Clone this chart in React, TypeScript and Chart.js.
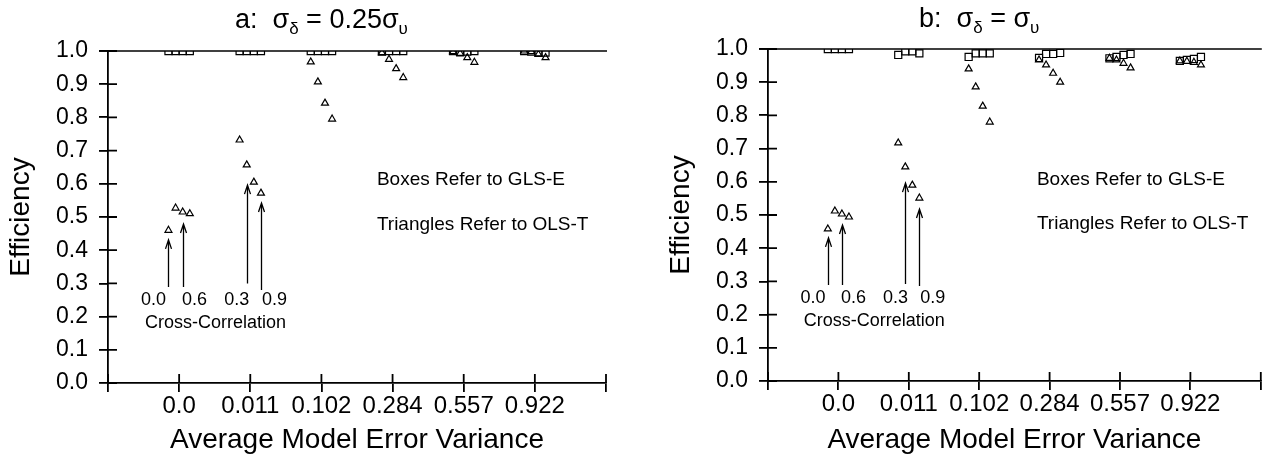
import React, { useEffect, useRef } from 'react';
import { Chart, registerables } from 'chart.js';

Chart.register(...registerables);

const FONT = "'Liberation Sans', Arial, Helvetica, sans-serif";

// ---------- data ----------
const categories = ['0.0', '0.011', '0.102', '0.284', '0.557', '0.922'];
const crossCorrelations = ['0.0', '0.3', '0.6', '0.9'];
const corrOffsets = [-0.15, -0.05, 0.05, 0.15];

// Panel a: sigma_delta = 0.25 sigma_upsilon
const glsA = [
  [1.0, 1.0, 1.0, 1.0],
  [1.0, 1.0, 1.0, 1.0],
  [1.0, 1.0, 1.0, 1.0],
  [0.998, 1.0, 1.0, 1.0],
  [1.0, 0.996, 0.998, 1.0],
  [1.0, 0.998, 0.996, 0.995],
];
const olsA = [
  [0.46, 0.527, 0.515, 0.51],
  [0.732, 0.657, 0.605, 0.572],
  [0.967, 0.907, 0.843, 0.795],
  [0.995, 0.975, 0.947, 0.92],
  [0.998, 0.993, 0.98, 0.966],
  [1.0, 0.998, 0.99, 0.98],
];

// Panel b: sigma_delta = sigma_upsilon
const glsB = [
  [1.0, 1.0, 1.0, 1.0],
  [0.982, 0.993, 0.993, 0.987],
  [0.976, 0.987, 0.987, 0.987],
  [0.973, 0.985, 0.985, 0.988],
  [0.972, 0.976, 0.982, 0.985],
  [0.964, 0.967, 0.97, 0.976],
];
const olsB = [
  [0.458, 0.512, 0.503, 0.494],
  [0.717, 0.645, 0.59, 0.551],
  [0.94, 0.886, 0.828, 0.78],
  [0.967, 0.952, 0.927, 0.9],
  [0.972, 0.967, 0.957, 0.943],
  [0.964, 0.963, 0.96, 0.952],
];

// arrows: category index, cross-correlation index, from value, to value (tip)
const arrowsA = [
  { cat: 0, corr: 0, from: 0.289, to: 0.431 },
  { cat: 0, corr: 2, from: 0.289, to: 0.479 },
  { cat: 1, corr: 1, from: 0.3, to: 0.596 },
  { cat: 1, corr: 3, from: 0.28, to: 0.542 },
];
const arrowsB = [
  { cat: 0, corr: 0, from: 0.289, to: 0.431 },
  { cat: 0, corr: 2, from: 0.289, to: 0.47 },
  { cat: 1, corr: 1, from: 0.292, to: 0.596 },
  { cat: 1, corr: 3, from: 0.286, to: 0.518 },
];
const arrowLabelTexts = ['0.0', '0.6', '0.3', '0.9'];
const arrowLabelX = [0.64, 1.215, 1.81, 2.34];
const arrowLabelY = 0.25;
const crossCorrTitle = 'Cross-Correlation';
const crossCorrX = 1.51;
const crossCorrY = 0.18;

const noteTexts = ['Boxes Refer to GLS-E', 'Triangles Refer to OLS-T'];
const noteXA = 3.78;
const noteYA = [0.613, 0.476];
const noteXB = 3.82;
const noteYB = [0.605, 0.473];

const titleA = [
  { t: 'a:  ', sub: false },
  { t: 'σ', sub: false },
  { t: 'δ', sub: true },
  { t: ' = 0.25', sub: false },
  { t: 'σ', sub: false },
  { t: 'υ', sub: true },
];
const titleB = [
  { t: 'b:  ', sub: false },
  { t: 'σ', sub: false },
  { t: 'δ', sub: true },
  { t: ' = ', sub: false },
  { t: 'σ', sub: false },
  { t: 'υ', sub: true },
];

const yAxisTitle = 'Efficiency';
const xAxisTitle = 'Average Model Error Variance';

const TICK = 9;
const AXIS_W = 1.8;

function pointsFrom(values: number[][]) {
  const pts: { x: number; y: number }[] = [];
  values.forEach((row, c) => {
    row.forEach((v, i) => {
      pts.push({ x: c + 1 + corrOffsets[i], y: v });
    });
  });
  return pts;
}

function makeOverlay(panel: any) {
  return {
    id: 'overlay',
    beforeDatasetsDraw(chart: any) {
      const { ctx, chartArea } = chart;
      const x = chart.scales.x;
      const y = chart.scales.y;
      ctx.save();
      ctx.strokeStyle = '#000';
      ctx.lineWidth = AXIS_W;
      ctx.beginPath();
      y.ticks.forEach((t: any) => {
        const py = y.getPixelForValue(t.value);
        ctx.moveTo(chartArea.left, py);
        ctx.lineTo(chartArea.left + TICK, py);
      });
      x.ticks.forEach((t: any) => {
        const px = x.getPixelForValue(t.value);
        ctx.moveTo(px, chartArea.bottom);
        ctx.lineTo(px, chartArea.bottom - TICK);
      });
      ctx.stroke();
      // reference line at efficiency 1.0
      const p1 = y.getPixelForValue(1.0);
      ctx.beginPath();
      ctx.lineWidth = 1.5;
      ctx.moveTo(chartArea.left - TICK, p1);
      ctx.lineTo(chartArea.right + 1, p1);
      ctx.stroke();
      ctx.restore();
    },
    afterDraw(chart: any) {
      const { ctx } = chart;
      const x = chart.scales.x;
      const y = chart.scales.y;
      ctx.save();
      ctx.strokeStyle = '#000';
      ctx.fillStyle = '#000';
      // arrows
      ctx.lineWidth = 1.3;
      panel.arrows.forEach((a: any) => {
        const px = Math.round(x.getPixelForValue(a.cat + 1 + corrOffsets[a.corr])) + 0.5;
        const pFrom = y.getPixelForValue(a.from);
        const pTo = y.getPixelForValue(a.to);
        ctx.beginPath();
        ctx.moveTo(px, pFrom);
        ctx.lineTo(px, pTo);
        ctx.moveTo(px - 3, pTo + 9);
        ctx.lineTo(px, pTo);
        ctx.lineTo(px + 3, pTo + 9);
        ctx.stroke();
      });
      // arrow labels
      ctx.font = `18px ${FONT}`;
      ctx.textAlign = 'center';
      ctx.textBaseline = 'middle';
      arrowLabelTexts.forEach((t, i) => {
        ctx.fillText(t, x.getPixelForValue(arrowLabelX[i]), y.getPixelForValue(arrowLabelY));
      });
      ctx.fillText(crossCorrTitle, x.getPixelForValue(crossCorrX), y.getPixelForValue(crossCorrY));
      // notes
      ctx.textAlign = 'left';
      ctx.font = `19px ${FONT}`;
      noteTexts.forEach((t, i) => {
        ctx.fillText(t, x.getPixelForValue(panel.noteX), y.getPixelForValue(panel.noteY[i]));
      });
      // title with subscripts
      const mainSize = 27;
      const subSize = 17;
      ctx.textBaseline = 'alphabetic';
      let total = 0;
      panel.title.forEach((s: any) => {
        ctx.font = `${s.sub ? subSize : mainSize}px ${FONT}`;
        total += ctx.measureText(s.t).width;
      });
      let cx = x.getPixelForValue(3.0) - total / 2;
      panel.title.forEach((s: any) => {
        ctx.font = `${s.sub ? subSize : mainSize}px ${FONT}`;
        ctx.fillText(s.t, cx, panel.titleBaseline + (s.sub ? 6 : 0));
        cx += ctx.measureText(s.t).width;
      });
      ctx.restore();
    },
  };
}

function buildChart(canvas: HTMLCanvasElement, panel: any) {
  const axisCommon = {
    grid: { drawOnChartArea: false, drawTicks: true, tickLength: TICK, color: '#000', lineWidth: AXIS_W },
    border: { display: true, color: '#000', width: AXIS_W },
  };
  return new Chart(canvas, {
    type: 'scatter',
    data: {
      datasets: [
        {
          label: 'GLS-E',
          data: pointsFrom(panel.gls),
          pointStyle: 'rect',
          pointRadius: 5,
          borderColor: '#000',
          backgroundColor: 'rgba(0,0,0,0)',
          pointBorderWidth: 1.2,
          showLine: false,
        },
        {
          label: 'OLS-T',
          data: pointsFrom(panel.ols),
          pointStyle: 'triangle',
          pointRadius: 4,
          borderColor: '#000',
          backgroundColor: 'rgba(0,0,0,0)',
          pointBorderWidth: 1.2,
          showLine: false,
        },
      ],
    },
    options: {
      animation: false,
      responsive: false,
      devicePixelRatio: 1,
      layout: { padding: { top: panel.top, right: panel.right, left: 0, bottom: 0 } },
      plugins: { legend: { display: false }, tooltip: { enabled: false }, title: { display: false } },
      scales: {
        x: {
          type: 'linear',
          min: 0,
          max: 7,
          afterFit: (s: any) => {
            s.height = panel.xAxisHeight;
          },
          ticks: {
            stepSize: 1,
            autoSkip: false,
            maxRotation: 0,
            color: '#000',
            padding: 0,
            font: { family: FONT, size: 24 },
            callback: (v: any) => categories[Number(v) - 1] ?? '',
          },
          ...axisCommon,
          title: {
            display: true,
            text: xAxisTitle,
            color: '#000',
            font: { family: FONT, size: 28 },
            padding: { top: 0, bottom: 5 },
          },
        },
        y: {
          type: 'linear',
          min: 0,
          max: 1,
          afterFit: (s: any) => {
            s.width = 108;
          },
          ticks: {
            stepSize: 0.1,
            color: '#000',
            padding: 11,
            font: { family: FONT, size: 23 },
            callback: (v: any) => Number(v).toFixed(1),
          },
          ...axisCommon,
          title: {
            display: true,
            text: yAxisTitle,
            color: '#000',
            font: { family: FONT, size: 28 },
            padding: { top: 4, bottom: 0 },
          },
        },
      },
    },
    plugins: [makeOverlay(panel)],
  } as any);
}

export default function App() {
  const leftRef = useRef<HTMLCanvasElement>(null);
  const rightRef = useRef<HTMLCanvasElement>(null);

  useEffect(() => {
    Chart.defaults.font.family = FONT;
    Chart.defaults.color = '#000';
    const a = buildChart(leftRef.current!, {
      gls: glsA,
      ols: olsA,
      arrows: arrowsA,
      noteX: noteXA,
      noteY: noteYA,
      title: titleA,
      titleBaseline: 28,
      top: 51,
      right: 54,
      xAxisHeight: 79,
    });
    const b = buildChart(rightRef.current!, {
      gls: glsB,
      ols: olsB,
      arrows: arrowsB,
      noteX: noteXB,
      noteY: noteYB,
      title: titleB,
      titleBaseline: 27,
      top: 49,
      right: 1,
      xAxisHeight: 81,
    });
    return () => {
      a.destroy();
      b.destroy();
    };
  }, []);

  return (
    <div style={{ position: 'absolute', left: 0, top: 0, width: 1267, height: 462, background: '#fff', overflow: 'hidden' }}>
      <canvas ref={leftRef} width={660} height={462} style={{ position: 'absolute', left: 0, top: 0, width: 660, height: 462 }} />
      <canvas ref={rightRef} width={607} height={462} style={{ position: 'absolute', left: 660, top: 0, width: 607, height: 462 }} />
    </div>
  );
}
